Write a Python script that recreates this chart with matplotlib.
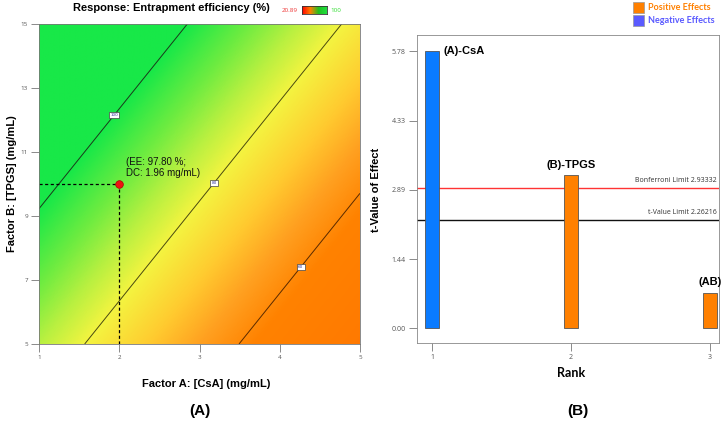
import numpy as np
import matplotlib
matplotlib.use("Agg")
import matplotlib.pyplot as plt
from matplotlib.colors import LinearSegmentedColormap, Normalize
from matplotlib.patches import Rectangle

# ---------------- Panel A: response surface (actual units) ----------------
csa_range = [1, 5]
tpgs_range = [5, 15]
# linear model: EE = b0 + bA*CsA + bB*TPGS
model_b0 = 79.67
model_bA = -10.4
model_bB = 3.33
contour_levels = [60, 80, 100]
contour_colors = ["#5a2a00", "#4a4a10", "#1a3a1a"]
contour_label_pos = [(4.24, 7.44), (3.17, 10.06), (1.91, 12.22)]
color_min = 20.89
color_max = 100
cmap_values = [20.89, 45, 58, 65, 72, 80, 86, 92, 100]
cmap_colors = ["#ff0000", "#ff7a00", "#ff8200", "#ffa020", "#ffcc30",
               "#f4f440", "#b8f040", "#70ec40", "#18e848"]
opt_csa = 2.0
opt_tpgs = 10.0
opt_text = "(EE: 97.80 %;\nDC: 1.96 mg/mL)"
xticks_a = [1, 2, 3, 4, 5]
yticks_a = [5, 7, 9, 11, 13, 15]

# ---------------- Panel B: Pareto chart ----------------
ranks = [1, 2, 3]
effect_names = ["(A)-CsA", "(B)-TPGS", "(AB)"]
t_values = [5.78, 3.19, 0.73]
effect_sign = ["neg", "pos", "pos"]
t_ticks = [0.00, 1.44, 2.89, 4.33, 5.78]
bonferroni = 2.93332
t_limit = 2.26216

W, H = 727, 423
fig = plt.figure(figsize=(W / 100, H / 100), dpi=100)
fig.patch.set_facecolor("white")

def fx(px):
    return px / W

def fy(py):
    return 1 - py / H

ARIAL = "Liberation Sans"
TICKFONT = "Open Sans"

# ---- Panel A ----
axA = fig.add_axes([fx(39), fy(344), fx(360) - fx(39), fy(24) - fy(344)])
span = color_max - color_min
cmap = LinearSegmentedColormap.from_list(
    "ee", [((v - color_min) / span, c) for v, c in zip(cmap_values, cmap_colors)])
A = np.linspace(csa_range[0], csa_range[1], 300)
B = np.linspace(tpgs_range[0], tpgs_range[1], 300)
AA, BB = np.meshgrid(A, B)
Z = model_b0 + model_bA * AA + model_bB * BB
norm = Normalize(vmin=color_min, vmax=color_max, clip=True)
axA.imshow(Z, origin="lower", extent=[A[0], A[-1], B[0], B[-1]], cmap=cmap,
           norm=norm, aspect="auto", interpolation="bilinear")
cs = axA.contour(AA, BB, Z, levels=contour_levels, colors=contour_colors, linewidths=0.7)
labs = axA.clabel(cs, inline=False, fontsize=3, manual=contour_label_pos, fmt="%d")
for t in labs:
    t.set_rotation(0)
    t.set_color("#333399")
    t.set_bbox(dict(boxstyle="square,pad=0.3", fc="white", ec="#444444", lw=0.5))
axA.plot([opt_csa, opt_csa], [tpgs_range[0], opt_tpgs], ls=(0, (2.5, 2)), color="black", lw=0.9)
axA.plot([csa_range[0], opt_csa], [opt_tpgs, opt_tpgs], ls=(0, (2.5, 2)), color="black", lw=0.9)
axA.plot([opt_csa], [opt_tpgs], "o", color="#ee1111", ms=5.5, mec="#aa0000", mew=0.5, zorder=5)
axA.text(opt_csa + 0.08, opt_tpgs + 0.2, opt_text, fontsize=7, family=ARIAL,
         color="#111111", va="bottom", ha="left", linespacing=1.1)
axA.set_xlim(csa_range)
axA.set_ylim(tpgs_range)
axA.set_xticks(xticks_a)
axA.set_yticks(yticks_a)
axA.tick_params(direction="out", length=6, width=0.6, color="#777777",
                labelsize=4.5, labelcolor="#555555", pad=2)
for lab in axA.get_xticklabels() + axA.get_yticklabels():
    lab.set_family(TICKFONT)
for s in axA.spines.values():
    s.set_color("#777777")
    s.set_linewidth(0.6)

fig.text(fx(171), fy(11), "Response: Entrapment efficiency (%)", fontsize=8,
         fontweight="bold", family=ARIAL, ha="center", va="baseline")
cax = fig.add_axes([fx(302), fy(14), fx(327) - fx(302), fy(6) - fy(14)])
cax.imshow(np.linspace(0, 1, 100)[None, :], aspect="auto", cmap=LinearSegmentedColormap.from_list(
    "bar", ["#ff0000", "#ff8000", "#20c020", "#20e040"]), extent=[0, 1, 0, 1])
cax.set_xticks([]); cax.set_yticks([])
for s in cax.spines.values():
    s.set_color("#333333"); s.set_linewidth(0.6)
fig.text(fx(298), fy(10), f"{color_min:.2f}", fontsize=4.5, color="#ee3333",
         ha="right", va="center", family=TICKFONT)
fig.text(fx(330), fy(10), f"{color_max:d}", fontsize=4.5, color="#33dd33",
         ha="left", va="center", family=TICKFONT)

fig.text(fx(206), fy(384), "Factor A: [CsA] (mg/mL)", fontsize=8, fontweight="bold",
         family=ARIAL, ha="center", va="center")
fig.text(fx(12), fy(184), "Factor B: [TPGS] (mg/mL)", fontsize=8, fontweight="bold",
         family=ARIAL, ha="center", va="center", rotation=90)
fig.text(fx(200), fy(411), "(A)", fontsize=11, fontweight="bold", family=ARIAL,
         ha="center", va="center")

# ---- Panel B ----
axB = fig.add_axes([fx(417), fy(343), fx(719) - fx(417), fy(35) - fy(343)])
col = {"neg": "#0a7bff", "pos": "#ff8000"}
axB.bar(ranks, t_values, width=0.1, color=[col[s] for s in effect_sign],
        edgecolor="#555555", linewidth=0.6, zorder=3)
axB.axhline(bonferroni, color="#ff3333", lw=1.0, zorder=2)
axB.axhline(t_limit, color="#111111", lw=1.0, zorder=2)
axB.text(3.05, bonferroni + 0.07, f"Bonferroni Limit {bonferroni:.5f}", fontsize=5,
         family=TICKFONT, color="#333333", ha="right", va="bottom")
axB.text(3.05, t_limit + 0.07, f"t-Value Limit {t_limit:.5f}", fontsize=5,
         family=TICKFONT, color="#333333", ha="right", va="bottom")
axB.text(ranks[0] + 0.08, t_values[0], effect_names[0], fontsize=8, fontweight="bold",
         family=ARIAL, ha="left", va="center")
for r, v, n in zip(ranks[1:], t_values[1:], effect_names[1:]):
    axB.text(r, v + 0.12, n, fontsize=8, fontweight="bold", family=ARIAL,
             ha="center", va="bottom")
axB.set_xlim(0.89, 3.065)
axB.set_ylim(-0.31, 6.12)
axB.set_xticks(ranks)
axB.set_yticks(t_ticks)
axB.set_yticklabels([f"{v:.2f}" for v in t_ticks])
axB.tick_params(direction="out", length=6, width=0.6, color="#777777",
                labelsize=5, labelcolor="#555555", pad=2)
for lab in axB.get_xticklabels() + axB.get_yticklabels():
    lab.set_family(TICKFONT)
for s in axB.spines.values():
    s.set_color("#888888")
    s.set_linewidth(0.6)
fig.text(fx(571), fy(373), "Rank", fontsize=9, fontweight="bold", family="Lato",
         ha="center", va="center")
fig.text(fx(376), fy(190), "t-Value of Effect", fontsize=8, fontweight="bold",
         family=ARIAL, ha="center", va="center", rotation=90)
fig.text(fx(578), fy(411), "(B)", fontsize=11, fontweight="bold", family=ARIAL,
         ha="center", va="center")

# legend
for i, (lab, fc, tc) in enumerate([("Positive Effects", "#ff8000", "#ff8000"),
                                   ("Negative Effects", "#5a5aff", "#5a5aff")]):
    y0 = 2 + i * 13
    fig.patches.append(Rectangle((fx(633), fy(y0 + 11)), fx(644) - fx(633),
                                 fy(y0) - fy(y0 + 11), transform=fig.transFigure,
                                 fc=fc, ec="#999999", lw=0.5))
    fig.text(fx(648), fy(y0 + 5.5), lab, fontsize=6.5, fontweight="bold", family="Lato",
             color=tc, ha="left", va="center")

fig.savefig("out.png", dpi=100, facecolor="white")
